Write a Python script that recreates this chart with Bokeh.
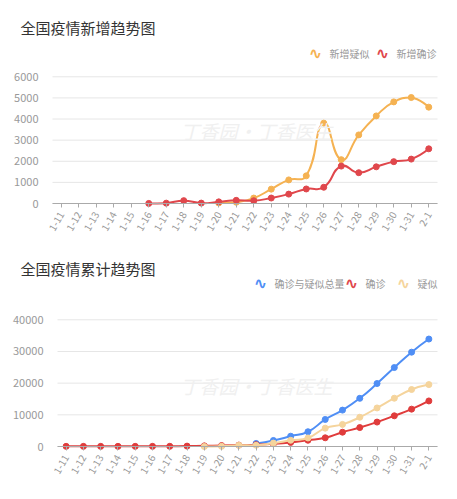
import math
from bokeh.plotting import figure
from bokeh.models import Range1d, FixedTicker, Label
from bokeh.layouts import column
from bokeh.embed import file_html
from bokeh.resources import INLINE

dates = ["1-11", "1-12", "1-13", "1-14", "1-15", "1-16", "1-17", "1-18", "1-19", "1-20", "1-21",
         "1-22", "1-23", "1-24", "1-25", "1-26", "1-27", "1-28", "1-29", "1-30", "1-31", "2-1"]

# top chart: daily new
new_suspected = [None] * 9 + [27, 60, 257, 680, 1118, 1309, 3806, 2077, 3248, 4148, 4812, 5019, 4562]
new_confirmed = [None] * 5 + [4, 17, 136, 19, 77, 149, 131, 259, 444, 688, 769, 1771, 1459, 1737, 1982, 2102, 2590]

# bottom chart: cumulative
cum_total = [None] * 11 + [964, 1902, 3252, 4659, 8538, 11488, 15213, 19878, 24930, 29779, 33924]
cum_confirmed = [41, 41, 41, 41, 41, 45, 62, 121, 198, 291, 440, 571, 830, 1287, 1975, 2744, 4515, 5974,
                 7711, 9692, 11791, 14380]
cum_suspected = [None] * 8 + [0, 54, 393, 393, 1072, 1965, 2684, 5794, 6973, 9239, 12167, 15238, 17988, 19544]

top_yticks = [0, 1000, 2000, 3000, 4000, 5000, 6000]
bot_yticks = [0, 10000, 20000, 30000, 40000]

FONT = "Noto Sans CJK SC"
GRAY = "#999999"
W = 457


def smooth_segments(vals, sx, sy, smooth=0.5):
    """ECharts-like smoothing: bezier control points computed in pixel space."""
    idx = [i for i, v in enumerate(vals) if v is not None]
    pts = [(i * sx, vals[i] * sy) for i in idx]
    n = len(pts)
    minx = min(p[0] for p in pts); maxx = max(p[0] for p in pts)
    miny = min(p[1] for p in pts); maxy = max(p[1] for p in pts)
    cps = []
    for i in range(n):
        p = pts[i]
        if i == 0 or i == n - 1:
            cps.append((p, p))
            continue
        prv = pts[i - 1]; nxt = pts[i + 1]
        vx = (nxt[0] - prv[0]) * smooth
        vy = (nxt[1] - prv[1]) * smooth
        d0 = math.hypot(p[0] - prv[0], p[1] - prv[1])
        d1 = math.hypot(p[0] - nxt[0], p[1] - nxt[1])
        s = d0 + d1
        if s:
            d0 /= s; d1 /= s
        c0 = (p[0] - vx * d0, p[1] - vy * d0)
        c1 = (p[0] + vx * d1, p[1] + vy * d1)
        c0 = (min(max(c0[0], minx), maxx), min(max(c0[1], miny), maxy))
        c1 = (min(max(c1[0], minx), maxx), min(max(c1[1], miny), maxy))
        cps.append((c0, c1))
    out = dict(x0=[], y0=[], x1=[], y1=[], cx0=[], cy0=[], cx1=[], cy1=[])
    for i in range(n - 1):
        a = pts[i]; b = pts[i + 1]
        ca = cps[i][1]; cb = cps[i + 1][0]
        out["x0"].append(a[0] / sx); out["y0"].append(a[1] / sy)
        out["x1"].append(b[0] / sx); out["y1"].append(b[1] / sy)
        out["cx0"].append(ca[0] / sx); out["cy0"].append(ca[1] / sy)
        out["cx1"].append(cb[0] / sx); out["cy1"].append(cb[1] / sy)
    return out, idx, [vals[i] for i in idx]


def make_fig(height, zero_from_top, yticks, plot_left, plot_right, plot_h):
    """The frame fills the whole canvas; both axes are drawn inside it at fixed locations."""
    n = len(dates)
    step = (plot_right - plot_left) / n
    x0 = -0.5 - plot_left / step
    x1 = n - 0.5 + (W - plot_right) / step
    ymax = yticks[-1]
    per_px = ymax / plot_h
    p = figure(width=W, height=height, x_range=Range1d(x0, x1),
               y_range=Range1d(-(height - zero_from_top) * per_px, zero_from_top * per_px),
               output_backend="svg", toolbar_location=None,
               min_border_left=0, min_border_right=0, min_border_top=0, min_border_bottom=0)
    p.outline_line_color = None
    p.xgrid.grid_line_color = None
    p.ygrid.grid_line_color = None
    # horizontal grid lines at the value ticks, across the category span
    p.segment(x0=[-0.5] * len(yticks), x1=[n - 0.5] * len(yticks), y0=yticks, y1=yticks,
              line_color="#e6e6e6", line_width=1)
    p.yaxis.fixed_location = -0.5
    p.yaxis.bounds = (0, ymax)
    p.yaxis.ticker = FixedTicker(ticks=yticks)
    p.yaxis.axis_line_color = None
    p.yaxis.major_tick_line_color = None
    p.yaxis.minor_tick_line_color = None
    p.yaxis.major_label_text_color = GRAY
    p.yaxis.major_label_text_font_size = "11px"
    p.yaxis.major_label_text_font = FONT
    p.yaxis.major_label_standoff = 8
    p.xaxis.fixed_location = 0
    p.xaxis.bounds = (-0.5, n - 0.5)
    p.xaxis.ticker = FixedTicker(ticks=list(range(n)))
    p.xaxis.major_label_overrides = {i: d for i, d in enumerate(dates)}
    p.xaxis.major_label_orientation = math.pi / 3
    p.xaxis.axis_line_color = "#aaaaaa"
    p.xaxis.major_tick_line_color = "#aaaaaa"
    p.xaxis.major_tick_out = 4
    p.xaxis.major_tick_in = 0
    p.xaxis.minor_tick_line_color = None
    p.xaxis.major_label_text_color = GRAY
    p.xaxis.major_label_text_font_size = "10px"
    p.xaxis.major_label_text_font = FONT
    p.xaxis.major_label_standoff = 5
    return p, step


def add_series(p, vals, color, sx, sy):
    seg, xs, ys = smooth_segments(vals, sx, sy)
    p.bezier(x0="x0", y0="y0", x1="x1", y1="y1", cx0="cx0", cy0="cy0", cx1="cx1", cy1="cy1",
             source=seg, line_color=color, line_width=2)
    p.scatter(xs, ys, size=6, color=color)


# label positions in canvas pixels: x from the left, y up from the bottom
def add_title(p, text, x, y):
    p.add_layout(Label(x=x, y=y, x_units="screen", y_units="screen", text=text,
                       text_font=FONT, text_font_size="15px", text_color="#333333",
                       text_baseline="middle"))


def add_legend(p, items, y):
    for x, txt, color in items:
        p.add_layout(Label(x=x, y=y, x_units="screen", y_units="screen", text="∿",
                           text_font="DejaVu Sans", text_font_size="16px", text_color=color,
                           text_font_style="bold", text_baseline="middle", text_align="center"))
        p.add_layout(Label(x=x + 14, y=y, x_units="screen", y_units="screen", text=txt,
                           text_font=FONT, text_font_size="10px", text_color=GRAY,
                           text_baseline="middle"))


def add_watermark(p, x, y):
    p.add_layout(Label(x=x, y=y, x_units="screen", y_units="screen", text="丁香园·丁香医生",
                       text_font=FONT, text_font_size="19px", text_color="#f0f0f0",
                       text_font_style="italic", text_baseline="middle"))


ORANGE = "#f5b252"
RED = "#e0474c"
BLUE = "#4f8ef5"
PALE = "#f5d49c"

H1 = 249
p1, s1 = make_fig(H1, 203, top_yticks, 52, 437, 126.7)
add_title(p1, "全国疫情新增趋势图", 20, H1 - 27)
add_watermark(p1, 180, H1 - 130)
add_legend(p1, [(315, "新增疑似", ORANGE), (382, "新增确诊", RED)], H1 - 53)
add_series(p1, new_suspected, ORANGE, s1, 126.7 / top_yticks[-1])
add_series(p1, new_confirmed, RED, s1, 126.7 / top_yticks[-1])

H2 = 249
p2, s2 = make_fig(H2, 197, bot_yticks, 57, 437, 126.7)
add_title(p2, "全国疫情累计趋势图", 20, H2 - 19)
add_watermark(p2, 180, H2 - 136)
add_legend(p2, [(260, "确诊与疑似总量", BLUE), (351, "确诊", RED), (403, "疑似", PALE)], H2 - 34)
add_series(p2, cum_total, BLUE, s2, 126.7 / bot_yticks[-1])
add_series(p2, cum_confirmed, "#e03c3c", s2, 126.7 / bot_yticks[-1])
add_series(p2, cum_suspected, PALE, s2, 126.7 / bot_yticks[-1])

layout = column(p1, p2, spacing=0)
open("out.html", "w").write(file_html(layout, INLINE))
